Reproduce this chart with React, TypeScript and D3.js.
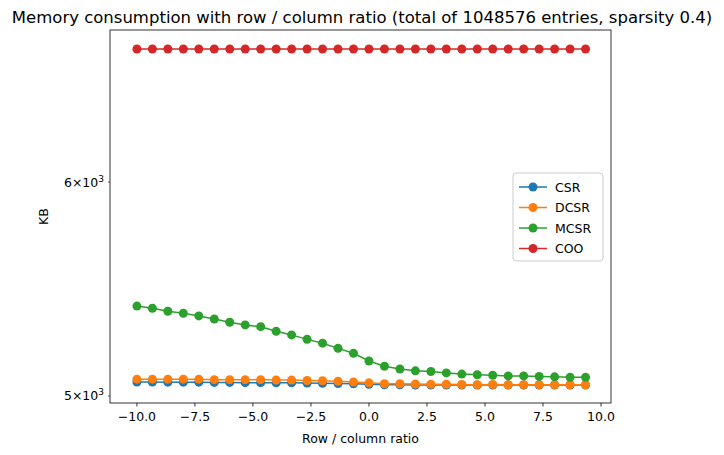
import React from "react";
import * as d3 from "d3";

const xs = d3.range(30).map((i) => -10 + (i * 2) / 3);
const csr = [5060, 5060, 5059, 5059, 5059, 5058, 5058, 5057, 5057, 5056, 5056, 5055, 5054, 5053, 5052, 5050, 5048, 5048, 5047, 5047, 5047, 5047, 5047, 5047, 5047, 5047, 5047, 5047, 5047, 5047];
const dcsr = [5072, 5072, 5072, 5072, 5072, 5070, 5070, 5070, 5070, 5068, 5068, 5066, 5065, 5063, 5060, 5056, 5052, 5052, 5051, 5050, 5050, 5049, 5048, 5049, 5048, 5048, 5048, 5048, 5048, 5048];
const mcsr = [5398, 5388, 5374, 5365, 5353, 5339, 5324, 5312, 5304, 5283, 5267, 5247, 5230, 5207, 5185, 5151, 5128, 5116, 5108, 5105, 5099, 5094, 5091, 5089, 5086, 5086, 5084, 5082, 5080, 5080];
const coo = xs.map(() => 6720);
const series = [
  { name: "CSR", values: csr, color: "#1f77b4" },
  { name: "DCSR", values: dcsr, color: "#ff7f0e" },
  { name: "MCSR", values: mcsr, color: "#2ca02c" },
  { name: "COO", values: coo, color: "#d62728" },
];
const xTicks = [-10, -7.5, -5, -2.5, 0, 2.5, 5, 7.5, 10];
const yTicks = [5000, 6000];

const L = 110, R = 611, T = 30, B = 403;

export default function App() {
  const x = d3.scaleLinear().domain([-11.16, 10.43]).range([L, R]);
  const y = d3.scaleLog().domain([4970, 6830]).range([B, T]);
  const line = d3.line<number>().x((_, i) => x(xs[i])).y((d) => y(d));
  const font = "DejaVu Sans, sans-serif";
  return (
    <svg width={724} height={455} style={{ position: "absolute", left: 0, top: 0 }} fontFamily={font}>
      <rect width={724} height={455} fill="#fff" />
      <text x={362} y={23} textAnchor="middle" fontSize={16.5}>
        Memory consumption with row / column ratio (total of 1048576 entries, sparsity 0.4)
      </text>
      {series.map((s) => (
        <g key={s.name}>
          <path d={line(s.values) || ""} fill="none" stroke={s.color} strokeWidth={1.5} />
          {s.values.map((v, i) => (
            <circle key={i} cx={x(xs[i])} cy={y(v)} r={4.5} fill={s.color} />
          ))}
        </g>
      ))}
      <rect x={L} y={T} width={R - L} height={B - T} fill="none" stroke="#000" strokeWidth={0.8} />
      {xTicks.map((t) => (
        <g key={t} transform={`translate(${x(t)},${B})`}>
          <line y2={3.5} stroke="#000" strokeWidth={0.8} />
          <text y={18} textAnchor="middle" fontSize={12.5}>{d3.format(".1f")(t).replace("-", "\u2212")}</text>
        </g>
      ))}
      {yTicks.map((t) => (
        <g key={t} transform={`translate(${L},${y(t)})`}>
          <line x2={-2} stroke="#000" strokeWidth={0.6} />
          <text x={-6} y={4.5} textAnchor="end" fontSize={12.5}>
            {t / 1000}×10<tspan dy={-5} fontSize={9}>3</tspan>
          </text>
        </g>
      ))}
      <text x={(L + R) / 2} y={443} textAnchor="middle" fontSize={12.5}>Row / column ratio</text>
      <text transform={`translate(48,${(T + B) / 2}) rotate(-90)`} textAnchor="middle" fontSize={12.5}>KB</text>
      <g transform="translate(513,173)">
        <rect width={90} height={88} rx={3} fill="#fff" fillOpacity={0.8} stroke="#ccc" />
        {series.map((s, i) => (
          <g key={s.name} transform={`translate(0,${14 + i * 20.5})`}>
            <line x1={6} x2={34} stroke={s.color} strokeWidth={1.5} />
            <circle cx={20} r={4.5} fill={s.color} />
            <text x={42} y={4.5} fontSize={12.5}>{s.name}</text>
          </g>
        ))}
      </g>
    </svg>
  );
}
